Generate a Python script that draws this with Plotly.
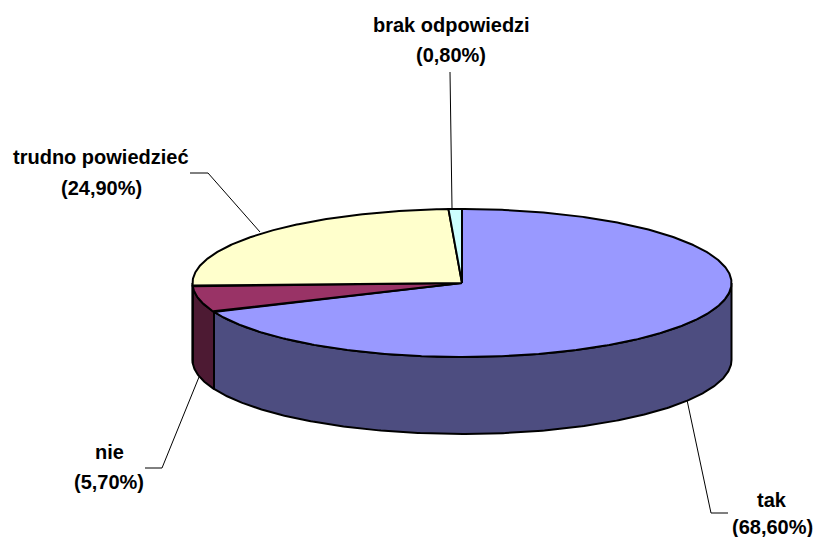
import numpy as np
import plotly.graph_objects as go

categories = ["tak", "nie", "trudno powiedzieć", "brak odpowiedzi"]
values = [68.6, 5.7, 24.9, 0.8]
top_colors = ["#9999FF", "#993366", "#FFFFCC", "#CCFFFF"]
side_colors = ["#4D4D80", "#4D1A33", "#80806A", "#668080"]

CX, CY, RX, RY, DEPTH = 462, 283, 269.5, 74, 77
INK = "#000000"
FONT = "Liberation Sans"
SIZE = 20

label_centres = [(772, 500, 527), (109, 452, 482), (101, 157, 188), (451, 25, 55)]
leaders = [
    ([687, 711, 728], [400, 513, 513]),
    ([145, 162, 199], [468, 468, 377]),
    ([190, 208, 260], [173, 173, 232]),
    ([450, 452], [72, 208]),
]


def rim(a0, a1, dy=0):
    t = np.radians(np.linspace(a0, a1, max(int(abs(a1 - a0)) * 2, 8)))
    return CX + RX * np.sin(t), CY - RY * np.cos(t) + dy


edges = np.concatenate([[0], np.cumsum(values)]) * 3.6
fig = go.Figure()

# side walls: only the front half of the rim (90 to 270 degrees) is visible
for i in range(len(values)):
    a0, a1 = max(edges[i], 90), min(edges[i + 1], 270)
    if a1 <= a0:
        continue
    xt, yt = rim(a0, a1)
    xb, yb = rim(a0, a1, DEPTH)
    fig.add_trace(go.Scatter(
        x=np.r_[xt, xb[::-1], xt[0]], y=np.r_[yt, yb[::-1], yt[0]],
        mode="lines", fill="toself", fillcolor=side_colors[i],
        line=dict(color=INK, width=2), hoverinfo="skip", showlegend=False))

# top faces
for i in range(len(values)):
    x, y = rim(edges[i], edges[i + 1])
    fig.add_trace(go.Scatter(
        x=np.r_[CX, x, CX], y=np.r_[CY, y, CY],
        mode="lines", fill="toself", fillcolor=top_colors[i],
        line=dict(color=INK, width=2), hoverinfo="skip", showlegend=False))

# leader lines
for lx, ly in leaders:
    fig.add_trace(go.Scatter(x=lx, y=ly, mode="lines",
                             line=dict(color=INK, width=1),
                             hoverinfo="skip", showlegend=False))

# labels
for name, val, (xc, y1, y2) in zip(categories, values, label_centres):
    pct = f"({val:.2f}%)".replace(".", ",")
    for txt, yy in ((name, y1), (pct, y2)):
        fig.add_annotation(x=xc, y=yy, text=f"<b>{txt}</b>", showarrow=False,
                           xanchor="center", yanchor="middle",
                           font=dict(family=FONT, size=SIZE, color=INK))

fig.update_xaxes(range=[0, 816], visible=False, fixedrange=True)
fig.update_yaxes(range=[537, 0], visible=False, fixedrange=True)
fig.update_layout(width=816, height=537, margin=dict(l=0, r=0, t=0, b=0),
                  paper_bgcolor="white", plot_bgcolor="white", showlegend=False)
fig.write_html("out.html", config={"displayModeBar": False},
               post_script="document.body.style.margin='0';"
                           "document.documentElement.style.overflow='hidden';")
